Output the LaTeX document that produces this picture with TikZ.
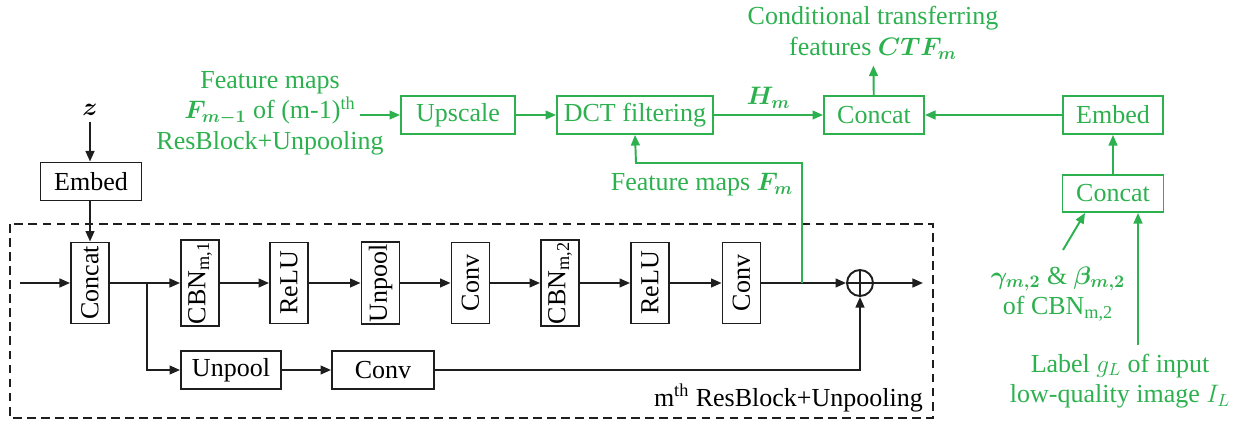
\documentclass[tikz,border=0pt]{standalone}
\usepackage{amsmath}
\usepackage{fontspec}
\setmainfont{Liberation Serif}
\usepackage{tikz}
\usetikzlibrary{arrows.meta,positioning}
\definecolor{CtfGreen}{HTML}{2DB14F}
\definecolor{BlockBlack}{HTML}{1E1E1E}

\begin{document}
\begin{tikzpicture}[
  x=0.02cm, y=-0.02cm,
  font=\fontsize{14.8}{17.4}\selectfont,
  blk/.style={draw=BlockBlack, line width=1.1pt, inner sep=1pt, align=center, minimum width=2.02cm, minimum height=0.76cm},
  vblk/.style={draw=BlockBlack, line width=1.1pt, inner sep=1pt, rotate=90, minimum width=1.62cm, minimum height=0.76cm},
  gblk/.style={draw=CtfGreen, text=CtfGreen, line width=1.1pt, inner sep=1pt, minimum width=2.0cm, minimum height=0.76cm},
  arr/.style={-{Triangle[length=6pt,width=5pt]}, line width=1.1pt, draw=BlockBlack},
  garr/.style={arr, draw=CtfGreen},
  gtxt/.style={text=CtfGreen, align=center}
]
  \useasboundingbox (0,0) rectangle (1233,422);

  % ResBlock + Unpooling
  \draw[BlockBlack, line width=0.8pt, dash pattern=on 5pt off 3pt] (10,224) rectangle (933,418);
  \node[anchor=base east] (blocklabel) at (929,406) {m\textsuperscript{th} ResBlock+Unpooling};

  \node (z) at (90,110) {$\boldsymbol{z}$};
  \node[blk] (embed) at (91,181.5) {Embed};
  \node[vblk] (concat) at (90,283) {Concat};
  \node[vblk] (cbn1) at (200,283) {CBN\textsubscript{m,1}};
  \node[vblk] (relu1) at (289,283) {ReLU};
  \node[vblk] (unpool1) at (380.5,283) {Unpool};
  \node[vblk] (conv1) at (470.5,283) {Conv};
  \node[vblk] (cbn2) at (560,283) {CBN\textsubscript{m,2}};
  \node[vblk] (relu2) at (650,283) {ReLU};
  \node[vblk] (conv2) at (741.5,283) {Conv};
  \node[draw=BlockBlack, line width=1.1pt, circle, minimum size=0.52cm, inner sep=0pt] (sum) at (860,283) {};
  \draw[BlockBlack, line width=1.1pt] (sum.north) -- (sum.south) (sum.west) -- (sum.east);
  \node[blk, minimum width=2.0cm] (unpool2) at (231,370) {Unpool};
  \node[blk, minimum width=2.04cm] (conv3) at (383,370) {Conv};

  \coordinate (in) at (20,283);
  \coordinate (split) at (147,283);
  \coordinate (tap) at (802,283);
  \coordinate (out) at (923,283);

  \draw[arr] (z) -- (z |- embed.north);
  \draw[arr] (concat.east |- embed.south) -- (concat.east);
  \draw[arr] (in) -- (concat.north);
  \draw[arr] (concat.south) -- (cbn1.north);
  \draw[arr] (cbn1.south) -- (relu1.north);
  \draw[arr] (relu1.south) -- (unpool1.north);
  \draw[arr] (unpool1.south) -- (conv1.north);
  \draw[arr] (conv1.south) -- (cbn2.north);
  \draw[arr] (cbn2.south) -- (relu2.north);
  \draw[arr] (relu2.south) -- (conv2.north);
  \draw[arr] (conv2.south) -- (sum.west);
  \draw[arr] (sum.east) -- (out);
  \draw[arr] (split) |- (unpool2.west);
  \draw[arr] (unpool2) -- (conv3);
  \draw[arr] (conv3.east) -| (sum.south);

  % conditional transferring features
  \node[gtxt] (fprev) at (270,113) {Feature maps\\$\boldsymbol{F_{m-1}}$ of (m-1)\textsuperscript{th}\\ResBlock+Unpooling};
  \node[gblk, minimum width=2.28cm] (upscale) at (458,115) {Upscale};
  \node[gblk, minimum width=3.12cm] (dct) at (635,115) {DCT filtering};
  \node[gblk] (gconcat) at (874,115) {Concat};
  \node[gblk] (gembed) at (1113,115) {Embed};
  \node[gblk, minimum width=2.02cm, minimum height=0.74cm] (gconcat2) at (1113,193.5) {Concat};
  \node[gtxt] (ctf) at (873,33) {Conditional transferring\\features $\boldsymbol{CTF_m}$};
  \node[gtxt] (fm) at (702,185) {Feature maps $\boldsymbol{F_m}$};
  \node[gtxt] (gb) at (1058,294) {$\boldsymbol{\gamma_{m,2}}$ \& $\boldsymbol{\beta_{m,2}}$\\of CBN\textsubscript{m,2}};
  \node[gtxt] (glabel) at (1120,381) {Label $g_L$ of input\\low-quality image $I_L$};

  \coordinate (fin) at (360,115);
  \coordinate (fmbend) at (636,163);
  \coordinate (gbtop) at (1063,250);
  \coordinate (gltop) at (1138,345);

  \draw[garr] (fin) -- (upscale);
  \draw[garr] (upscale) -- (dct);
  \draw[garr] (dct) -- node[gtxt, above] (hm) {$\boldsymbol{H_m}$} (gconcat);
  \draw[garr] (gembed) -- (gconcat);
  \draw[garr] (gconcat) -- (ctf);
  \draw[garr] (gconcat2) -- (gembed);
  \draw[garr] (gbtop) -- ([xshift=-0.56cm]gconcat2.south);
  \draw[garr] (gltop) -- (gltop |- gconcat2.south);
  \draw[garr] (tap) |- (fmbend) -- (dct.south);
\end{tikzpicture}
\end{document}
